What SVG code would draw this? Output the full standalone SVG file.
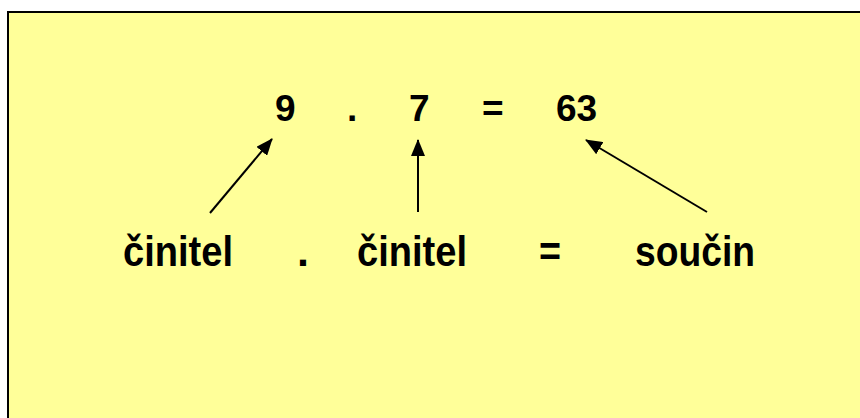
<svg xmlns="http://www.w3.org/2000/svg" width="860" height="418" viewBox="0 0 860 418">
<defs>
<style>
.t{font-family:"Liberation Sans",Arial,sans-serif;font-weight:bold;fill:#000}
.top{font-size:37px}
.bot{font-size:43px}
.c{stroke:#000;stroke-width:2;fill:none}
</style>
<marker id="ah" markerWidth="17" markerHeight="14" refX="16" refY="7" orient="auto" markerUnits="userSpaceOnUse">
<path d="M0,0 L17,7 L0,14 z" fill="#000"/>
</marker>
</defs>
<rect x="8" y="12" width="860" height="420" fill="#FFFF99" stroke="#000" stroke-width="2"/>
<g id="top-row" class="t top">
<text x="275" y="121">9</text>
<text x="347" y="121">.</text>
<text x="409" y="121">7</text>
<text x="482" y="121">=</text>
<text x="556" y="121">63</text>
</g>
<g id="n1"><text class="t bot" x="123" y="266" textLength="110" lengthAdjust="spacingAndGlyphs">činitel</text></g>
<g id="dot"><text class="t bot" x="297" y="266">.</text></g>
<g id="n2"><text class="t bot" x="357" y="266" textLength="110" lengthAdjust="spacingAndGlyphs">činitel</text></g>
<g id="eq"><text class="t bot" x="539" y="266" textLength="22" lengthAdjust="spacingAndGlyphs">=</text></g>
<g id="n3"><text class="t bot" x="635" y="266" textLength="120" lengthAdjust="spacingAndGlyphs">součin</text></g>
<g id="connectors" class="c">
<line x1="210" y1="213" x2="272" y2="139" marker-end="url(#ah)"/>
<line x1="418" y1="212" x2="418" y2="140" marker-end="url(#ah)"/>
<line x1="707" y1="212" x2="586" y2="140" marker-end="url(#ah)"/>
</g>
</svg>
